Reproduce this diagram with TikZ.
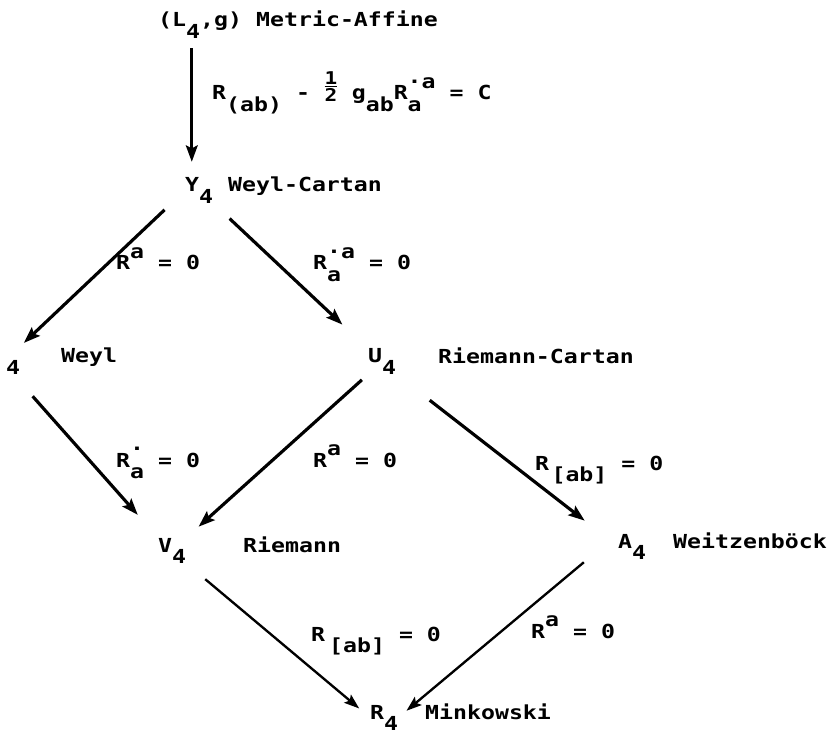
\documentclass[tikz,border=0pt]{standalone}
\usepackage{fontspec}
\setmainfont{DejaVu Sans Mono}[FakeStretch=1.2]
\usetikzlibrary{arrows.meta}

\newcommand\dn[1]{\raisebox{-9.5pt}{#1}}
\newcommand\up[1]{\raisebox{10pt}{#1}}
\newcommand\half{\makebox[11.9pt]{\raisebox{-1pt}{\fontsize{15}{12}\selectfont\shortstack{\underline{1}\\[-2pt]2}}}}

\tikzset{
  txt/.style = {anchor=base west, inner sep=0pt, font=\fontsize{16.5}{20}\selectfont\bfseries},
  arr/.style = {-{Stealth[length=14pt, width=10pt, inset=2.5pt]}, line width=2.7pt},
  arrthin/.style = {-{Stealth[length=13pt, width=9pt, inset=2.5pt]}, line width=2pt}
}

\begin{document}
\begin{tikzpicture}[x=0.03cm, y=-0.03cm]
\useasboundingbox (0,0) rectangle (830,736);

% spaces
\node[txt] (LG) at (158,27)  {(L\dn{4},g)};
\node[txt] (Y)  at (185,192) {Y\dn{4}};
\node[txt] (W)  at (6,363)   {\dn{4}};
\node[txt] (U)  at (368,363) {U\dn{4}};
\node[txt] (V)  at (158,552) {V\dn{4}};
\node[txt] (A)  at (618,548) {A\dn{4}};
\node[txt] (R)  at (370,719) {R\dn{4}};

% names
\node[txt] (metaff)   at (256,27)  {Metric-Affine};
\node[txt] (weylcart) at (228,192) {Weyl-Cartan};
\node[txt] (weyl)     at (61,363)  {Weyl};
\node[txt] (riecart)  at (438,364) {Riemann-Cartan};
\node[txt] (riem)     at (243,552) {Riemann};
\node[txt] (weitz)    at (673,548) {Weitzenböck};
\node[txt] (mink)     at (425,719) {Minkowski};

% conditions
\node[txt] (eqLY) at (212,100) {R\dn{(ab)} - \half{} g\dn{ab}R\rlap{\dn{a}}\up{·a} = C};
\node[txt] (eqYW) at (116,270) {R\up{a} = 0};
\node[txt] (eqYU) at (313,270) {R\rlap{\dn{a}}\up{·a} = 0};
\node[txt] (eqWV) at (116,467) {R\rlap{\dn{a}}\up{·} = 0};
\node[txt] (eqUV) at (313,467) {R\up{a} = 0};
\node[txt] (eqUA) at (535,470) {R\kern2pt\dn{[ab]} = 0};
\node[txt] (eqVR) at (311,641) {R\kern3.4pt\dn{[ab]} = 0};
\node[txt] (eqAR) at (531,638) {R\up{a} = 0};

\draw[arr, shorten <=8.5pt, shorten >=13.5pt] (LG.south -| Y.120) -- (Y.120);
\draw[arr, shorten <=24pt, shorten >=21pt] (Y.west) -- (W.north west);
\draw[arr, shorten <=19pt, shorten >=30pt] (Y.south east) -- (U.north west);
\draw[arr, shorten <=25pt, shorten >=26pt] (W.south) -- (V.north west);
\draw[arr, shorten <=7pt, shorten >=14pt] (U.south west) -- (V.north east);
\draw[arr, shorten <=36pt, shorten >=36pt] (U.south east) -- (A.west);
\draw[arrthin, shorten <=21pt, shorten >=12pt] (V.south east) -- (R.west);
\draw[arrthin, shorten <=38pt, shorten >=9pt] (A.north west) -- (R.east);

\end{tikzpicture}
\end{document}
